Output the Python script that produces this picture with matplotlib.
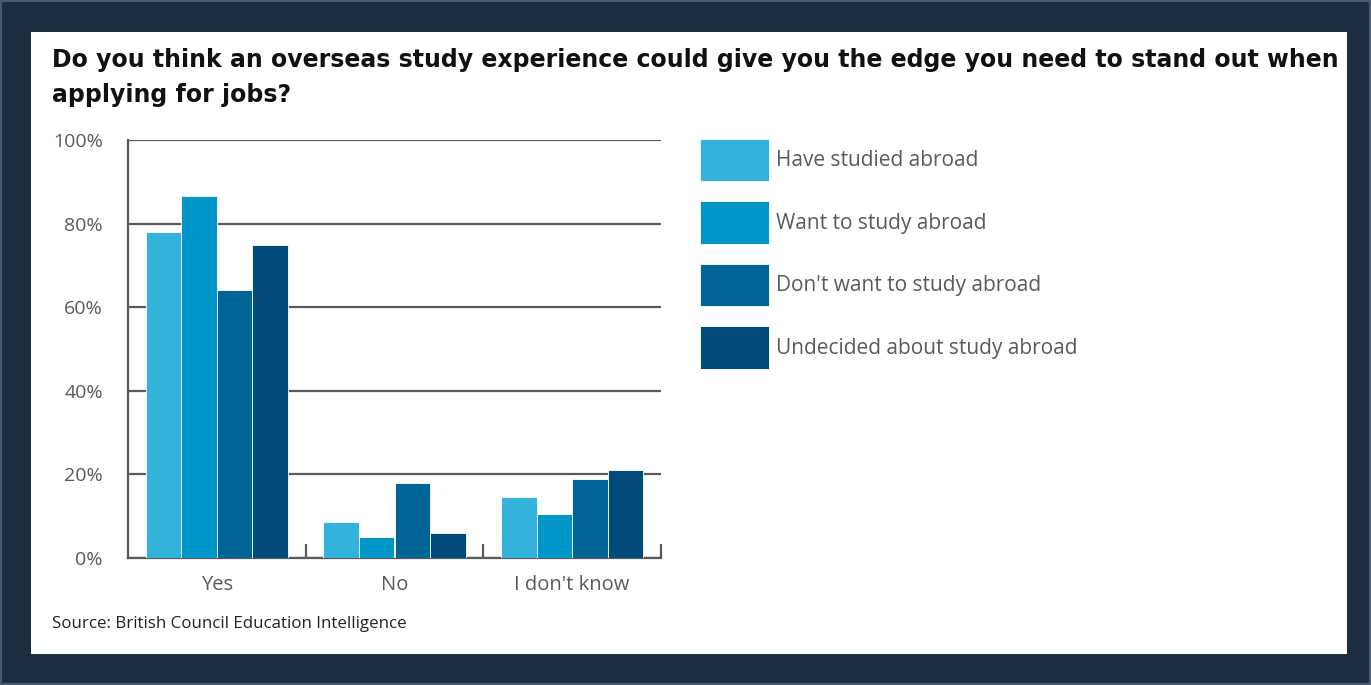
import numpy as np
import matplotlib
matplotlib.use("Agg")
import matplotlib.pyplot as plt
from matplotlib.patches import Rectangle

plt.rcParams['font.family'] = ['Open Sans', 'DejaVu Sans']

# survey answers and respondent groups
answers = ['Yes', 'No', "I don't know"]
groups = ['Have studied abroad', 'Want to study abroad',
          "Don't want to study abroad", 'Undecided about study abroad']
have_studied = [78, 8.5, 14.5]
want_study = [86.5, 5, 10.5]
dont_want = [64, 18, 19]
undecided = [75, 6, 21]
yticks = [0, 20, 40, 60, 80, 100]
ytick_labels = ['0%', '20%', '40%', '60%', '80%', '100%']

colors = ['#33b3db', '#0096c7', '#006596', '#004a7c']
navy = '#1c2d40'
grey = '#5a5a5a'
W, H = 1371, 685

fig = plt.figure(figsize=(W / 100, H / 100), dpi=100, facecolor=navy)

# bevelled frame around the white card
fig.patches.append(Rectangle((0, 0), 1, 1, transform=fig.transFigure,
                             facecolor='none', edgecolor='#4a5a6c', lw=3, zorder=-2))
fig.patches.append(Rectangle((31 / W, 1 - 654 / H), (1347 - 31) / W, (654 - 32) / H,
                             transform=fig.transFigure, facecolor='white',
                             edgecolor='none', zorder=-1))

ax = fig.add_axes([128 / W, 1 - 558 / H, (661 - 128) / W, (558 - 140) / H])
ax.set_facecolor('white')

x = np.arange(len(answers))
bw = 0.2
series = [have_studied, want_study, dont_want, undecided]
handles = []
for i, (vals, c, lab) in enumerate(zip(series, colors, groups)):
    b = ax.bar(x + (i - 1.5) * bw, vals, width=bw, color=c, edgecolor='white',
               linewidth=0.6, label=lab, zorder=3)
    handles.append(b)

ax.set_xlim(-0.5, 2.5)
ax.set_ylim(0, 100)
ax.set_yticks(yticks)
ax.set_yticklabels(ytick_labels)
ax.yaxis.grid(True, color=grey, lw=1.6, zorder=1)
ax.tick_params(axis='y', length=0, pad=18, labelsize=14, labelcolor=grey)

ax.set_xticks(x)
ax.set_xticklabels(answers)
ax.tick_params(axis='x', length=0, pad=12, labelsize=14.5, labelcolor=grey)
# category separators as short upward ticks
ax.set_xticks([0.5, 1.5, 2.5], minor=True)
ax.tick_params(axis='x', which='minor', direction='in', length=10, width=1.6,
               color=grey)

for s in ['top', 'right']:
    ax.spines[s].set_visible(False)
for s in ['left', 'bottom']:
    ax.spines[s].set_color(grey)
    ax.spines[s].set_linewidth(1.6)

fs = 15
fig.legend(handles=handles, labels=groups, loc='upper left',
           bbox_to_anchor=(681 / W, 1 - 120 / H), frameon=False, fontsize=fs,
           handlelength=3.3, handleheight=2.75, labelspacing=0.97,
           handletextpad=0.38, labelcolor=grey)

fig.text(52 / W, 1 - 48 / H,
         'Do you think an overseas study experience could give you the edge you need to stand out when\napplying for jobs?',
         ha='left', va='top', fontsize=17, fontweight='bold', color='#111111',
         family=['DejaVu Sans'], linespacing=1.6)
fig.text(52 / W, 1 - 624 / H, 'Source: British Council Education Intelligence',
         ha='left', va='center', fontsize=12.2, color='#222222')

fig.savefig('out.png', dpi=100, facecolor=navy)
